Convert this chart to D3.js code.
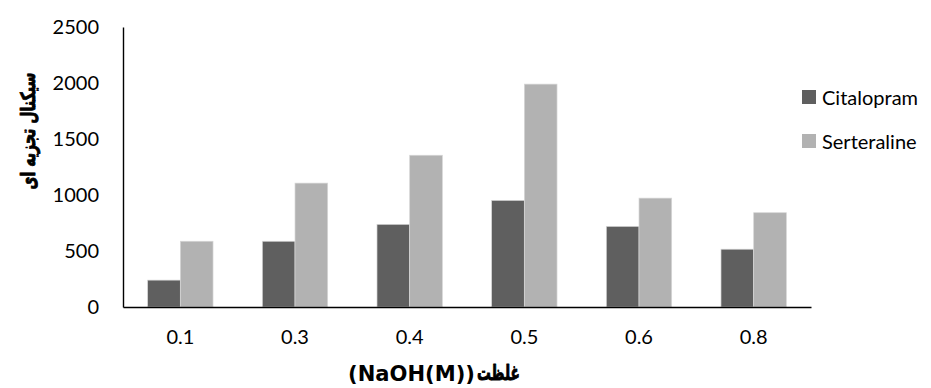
<!DOCTYPE html>
<html>
<head>
<meta charset="utf-8">
<script src="https://cdn.jsdelivr.net/npm/d3@7"></script>
<style>
  html, body { margin: 0; padding: 0; background: #fff; }
  svg { display: block; }
  .tick-label { font-family: Lato, "Open Sans", sans-serif; font-size: 20px; fill: #000; }
  .legend-label { font-family: Lato, "Open Sans", sans-serif; font-size: 20px; fill: #000; }
  .axis-title { font-family: "DejaVu Sans", sans-serif; font-weight: bold; fill: #000; }
  .farsi { stroke: #000; stroke-width: 0.9px; stroke-linejoin: round; }
</style>
</head>
<body>
<script>
// Concentrations of NaOH (M)
const categories = ["0.1", "0.3", "0.4", "0.5", "0.6", "0.8"];
const seriesNames = ["Citalopram", "Serteraline"];
const citalopram = [240, 587, 738, 952, 720, 516];
const serteraline = [587, 1106, 1355, 1990, 972, 842];
const yTicks = [0, 500, 1000, 1500, 2000, 2500];
const yTitle = "سیکنال تجزیه ای";
const xTitleLatin = "(NaOH(M))";
const xTitleFarsi = "غلظت";

const W = 931, H = 388;
const plot = { left: 123, right: 811, top: 27, bottom: 307 };
const colors = ["#5f5f5f", "#b2b2b2"];

const svg = d3.select("body").append("svg")
  .attr("width", W).attr("height", H);

const x0 = d3.scaleBand()
  .domain(categories)
  .range([plot.left, plot.right])
  .paddingInner(0.43)
  .paddingOuter(0.215);

const x1 = d3.scaleBand()
  .domain(seriesNames)
  .range([0, x0.bandwidth()]);

const y = d3.scaleLinear()
  .domain([0, 2500])
  .range([plot.bottom, plot.top]);

const color = d3.scaleOrdinal().domain(seriesNames).range(colors);

const rows = categories.map((c, i) => ({
  cat: c,
  values: [
    { name: seriesNames[0], value: citalopram[i] },
    { name: seriesNames[1], value: serteraline[i] }
  ]
}));

// Bars
const groups = svg.append("g").selectAll("g")
  .data(rows).join("g")
  .attr("transform", d => `translate(${x0(d.cat)},0)`);

groups.selectAll("rect")
  .data(d => d.values).join("rect")
  .attr("x", d => x1(d.name))
  .attr("y", d => y(d.value))
  .attr("width", x1.bandwidth())
  .attr("height", d => y(0) - y(d.value))
  .attr("fill", d => color(d.name))
  .attr("stroke", "#d6d6d6")
  .attr("stroke-width", 0.7);

// Y axis: line plus labels, no tick marks
const yAxis = svg.append("g")
  .attr("transform", `translate(${plot.left},0)`)
  .call(d3.axisLeft(y).tickValues(yTicks).tickSize(0).tickPadding(24).tickFormat(d3.format("d")));
yAxis.select(".domain").attr("stroke", "#000").attr("stroke-width", 1.4);
yAxis.selectAll(".tick text").attr("class", "tick-label").attr("font-size", null).attr("font-family", null);

// X axis
const xAxis = svg.append("g")
  .attr("transform", `translate(0,${plot.bottom})`)
  .call(d3.axisBottom(x0).tickSize(0).tickPadding(23));
xAxis.select(".domain").attr("stroke", "#000").attr("stroke-width", 1.4);
xAxis.selectAll(".tick text").attr("class", "tick-label").attr("font-size", null).attr("font-family", null);

// Y axis title, read bottom to top
svg.append("text")
  .attr("class", "axis-title farsi")
  .attr("font-size", 20)
  .attr("transform", "translate(28,131) rotate(-90)")
  .attr("text-anchor", "middle")
  .attr("dominant-baseline", "central")
  .attr("textLength", 117)
  .attr("lengthAdjust", "spacingAndGlyphs")
  .text(yTitle);

// X axis title: Latin part on the left, Persian word on the right
svg.append("text")
  .attr("class", "axis-title")
  .attr("font-size", 21)
  .attr("x", 348).attr("y", 374)
  .attr("dominant-baseline", "central")
  .attr("textLength", 127)
  .attr("lengthAdjust", "spacingAndGlyphs")
  .text(xTitleLatin);

svg.append("text")
  .attr("class", "axis-title farsi")
  .attr("font-size", 21)
  .attr("x", 477).attr("y", 373)
  .attr("dominant-baseline", "central")
  .attr("textLength", 43)
  .attr("lengthAdjust", "spacingAndGlyphs")
  .text(xTitleFarsi);

// Legend
const legend = svg.append("g").attr("transform", "translate(802,90)");
const items = legend.selectAll("g").data(seriesNames).join("g")
  .attr("transform", (d, i) => `translate(0,${i * 44})`);
items.append("rect")
  .attr("width", 14).attr("height", 14)
  .attr("fill", d => color(d));
items.append("text")
  .attr("class", "legend-label")
  .attr("x", 20).attr("y", 7)
  .attr("dominant-baseline", "central")
  .text(d => d);
</script>
</body>
</html>
